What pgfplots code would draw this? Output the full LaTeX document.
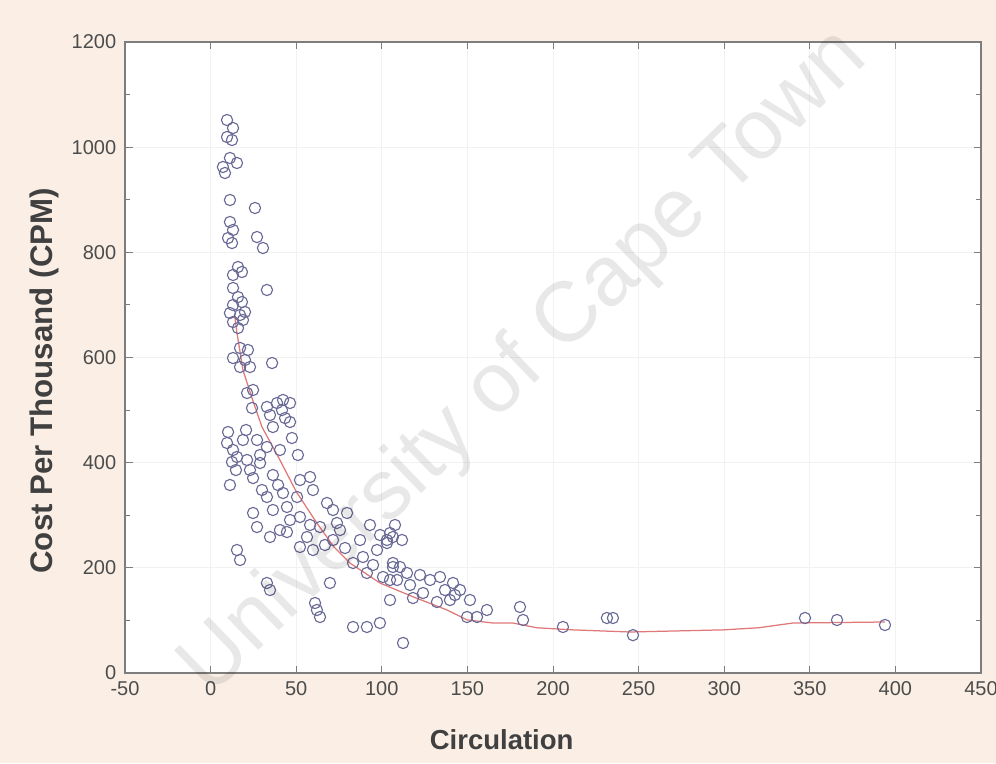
\documentclass[border=0pt]{standalone}
\usepackage{pgfplots}
\pgfplotsset{compat=1.18}
\usepackage{pgfplotstable}
\usepackage{fontspec}
\setmainfont{Liberation Sans}
\definecolor{paper}{RGB}{251,239,229}
\definecolor{ptcol}{RGB}{105,105,150}
\definecolor{fitcol}{RGB}{225,120,120}
\definecolor{axcol}{RGB}{125,125,125}

% circulation vs CPM
\pgfplotstableread{
x y
9.6 1051.6
13.1 1036.4
9.6 1019.3
12.5 1013.6
11.3 979.4
15.4 969.9
7.2 962.3
8.4 950.9
11.3 899.5
25.9 884.3
11.3 857.7
13.1 842.5
10.2 827.2
27.1 829.1
12.5 817.7
30.6 808.2
16.0 772.1
13.1 756.9
18.3 762.6
32.9 728.4
13.1 732.2
16.0 715.0
13.1 699.8
18.3 705.5
11.3 684.6
17.2 680.8
20.1 686.5
13.1 667.5
18.9 671.3
16.0 656.1
17.2 618.1
21.8 614.3
13.1 599.0
20.1 595.2
35.9 589.5
23.0 581.9
17.2 581.9
21.3 532.5
24.8 538.2
24.2 503.9
32.9 505.9
38.8 513.5
41.7 500.1
46.4 513.5
36.4 467.8
46.4 477.3
47.5 446.9
9.6 437.4
13.1 424.1
18.9 443.1
27.1 443.1
32.9 429.8
40.5 424.1
15.4 410.8
21.3 405.1
28.9 399.4
11.3 357.5
24.8 370.8
36.4 376.5
58.1 372.7
42.3 342.3
32.9 334.7
50.5 334.7
59.8 348.0
24.8 304.3
36.4 310.0
44.6 315.7
52.2 296.7
68.0 323.3
71.5 310.0
79.7 304.3
27.1 277.6
34.7 258.6
44.6 268.1
56.3 258.6
63.9 277.6
52.2 239.6
59.8 233.9
71.5 252.9
73.8 285.3
15.4 233.9
17.2 214.9
32.9 171.2
34.7 157.8
62.1 119.8
63.9 106.5
69.7 171.2
83.2 87.5
91.3 87.5
83.2 209.2
89.0 220.6
97.2 233.9
103.0 252.9
106.5 258.6
91.3 190.2
100.7 182.6
106.5 201.6
104.8 138.8
104.8 266.2
103.0 247.2
106.5 209.2
110.6 201.6
114.7 190.2
104.8 176.9
118.2 142.6
124.1 152.1
128.2 176.9
134.0 182.6
141.6 171.2
145.7 157.8
139.8 138.8
132.2 135.0
149.8 106.5
155.6 106.5
161.4 119.8
98.9 95.1
112.4 57.1
180.7 125.5
182.5 100.8
205.8 87.5
231.5 104.6
235.0 104.6
246.7 72.0
347.2 104.6
365.9 100.8
393.9 91.3
10.2 458.3
14.8 386.0
20.7 462.1
28.9 414.6
12.5 401.3
23.0 386.0
43.5 484.9
34.7 490.6
51.0 414.6
30.0 348.0
39.4 357.5
52.2 367.0
46.4 291.0
40.5 271.9
58.1 281.5
66.8 243.4
75.6 271.9
78.5 237.7
87.3 252.9
93.1 281.5
99.0 262.4
107.7 281.5
111.8 252.9
94.9 205.4
108.9 176.9
116.5 167.4
122.3 186.4
136.9 157.8
142.7 148.3
151.5 138.8
42.3 519.2
61.0 133.1
}\pts

\pgfplotstableread{
x y
14 680
15.4 647
18.9 576
25 515
30 468
40.5 405
50 345
62.1 285
72 240
81.4 209
99 171
118.2 145
138 120
149.8 101
165 95
176.6 95
190.6 86
211.7 82
245 78
299.3 82
320 86
340 95
394 97
}\fit

\begin{document}
\begin{tikzpicture}
\path[use as bounding box, fill=paper] (-50pt,-36pt) rectangle (348.4pt,269.2pt);
\begin{axis}[
  at={(0,0)}, anchor=south west,
  width=342.4pt, height=252.4pt, scale only axis,
  xmin=-50, xmax=450, ymin=0, ymax=1200,
  xtick={-50,0,...,450}, ytick={0,200,...,1200},
  minor y tick num=1,
  tick align=inside, major tick length=3pt, minor tick length=2pt,
  axis background/.style={fill=white},
  axis line style={axcol, line width=0.5pt},
  every tick/.style={axcol, line width=0.4pt},
  grid=major, major grid style={black!5, line width=0.4pt},
  tick label style={font=\fontsize{8}{9}\selectfont, text=black!70},
  /pgf/number format/assume math mode=true,
  /pgf/number format/1000 sep={},
  xlabel={Circulation},
  ylabel={Cost Per Thousand (CPM)},
  xlabel style={font=\fontsize{11}{13}\selectfont\bfseries, text=black!75,
    at={(axis description cs:0.44,0)}, anchor=center, yshift=-26.8pt},
  ylabel style={font=\fontsize{12.5}{14}\selectfont\bfseries, text=black!75,
    at={(axis description cs:0,0.463)}, anchor=center, yshift=32.4pt},
]
\addplot[fitcol, line width=0.5pt, mark=none] table[x=x, y=y] {\fit};
\addplot[only marks, mark=o, mark size=2.25pt, ptcol,
  mark options={line width=0.45pt}] table[x=x, y=y] {\pts};
\end{axis}
\node[rotate=44, font=\fontsize{34}{34}\selectfont, text=black, opacity=0.09]
  at (160pt,124pt) {University of Cape Town};
\end{tikzpicture}
\end{document}
